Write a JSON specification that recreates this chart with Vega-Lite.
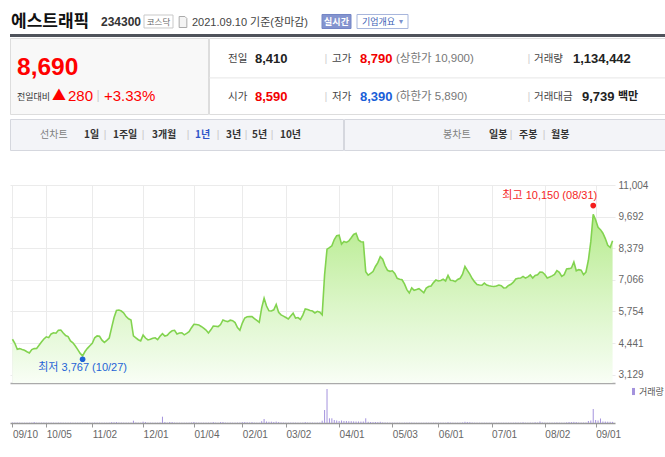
{
"$schema": "https://vega.github.io/schema/vega-lite/v6.json",
"usermeta": {"embedOptions": {"actions": false}},
"padding": {"left": 9, "top": 0, "right": 0, "bottom": 0},
"autosize": {"type": "pad"},
"background": "white",
"config": {"view": {"stroke": null}, "font": "Noto Sans CJK KR"},
"datasets": {
"quote": [{"name": "에스트래픽", "code": "234300", "market": "코스닥", "asof": "2021.09.10 기준(장마감)", "live": "실시간", "about": "기업개요", "price": 8690, "changeLabel": "전일대비", "arrow": "▲", "change": 280, "rate": "+3.33%"}],
"grid": [
{"item": "전일", "val": 8410, "col": "base", "row": "top", "dir": "flat"},
{"item": "시가", "val": 8590, "col": "base", "row": "bottom", "dir": "up"},
{"item": "고가", "val": 8790, "col": "hilo", "row": "top", "dir": "up", "limit": "(상한가 10,900)"},
{"item": "저가", "val": 8390, "col": "hilo", "row": "bottom", "dir": "down", "limit": "(하한가 5,890)"},
{"item": "거래량", "val": 1134442, "col": "trade", "row": "top", "dir": "flat"},
{"item": "거래대금", "val": 9739, "col": "trade", "row": "bottom", "dir": "flat", "unit": "백만"}
],
"tabs": [{"tab": "선차트"}, {"tab": "1일"}, {"tab": "1주일"}, {"tab": "3개월"}, {"tab": "1년"}, {"tab": "3년"}, {"tab": "5년"}, {"tab": "10년"}, {"tab": "봉차트"}, {"tab": "일봉"}, {"tab": "주봉"}, {"tab": "월봉"}],
"sep": [{"s": "|"}],
"extremes": [
{"d": "2021-08-31", "p": 10150, "kind": "최고", "label": "최고 10,150 (08/31)"},
{"d": "2020-10-27", "p": 3767, "kind": "최저", "label": "최저 3,767 (10/27)"}
],
"price": [
{"d":"2020-09-10","p":4600,"v":450000},{"d":"2020-09-11","p":4430,"v":380000},{"d":"2020-09-14","p":4180,"v":420000},{"d":"2020-09-15","p":4210,"v":300000},{"d":"2020-09-16","p":4170,"v":250000},{"d":"2020-09-17","p":4140,"v":260000},{"d":"2020-09-18","p":4080,"v":280000},{"d":"2020-09-21","p":4030,"v":300000},{"d":"2020-09-22","p":4170,"v":350000},{"d":"2020-09-23","p":4210,"v":900000},
{"d":"2020-09-24","p":4220,"v":300000},{"d":"2020-09-25","p":4350,"v":320000},{"d":"2020-09-28","p":4480,"v":340000},{"d":"2020-09-29","p":4610,"v":380000},{"d":"2020-10-05","p":4700,"v":360000},{"d":"2020-10-06","p":4665,"v":280000},{"d":"2020-10-07","p":4820,"v":330000},{"d":"2020-10-08","p":4870,"v":300000},{"d":"2020-10-12","p":4850,"v":260000},{"d":"2020-10-13","p":4970,"v":350000},
{"d":"2020-10-14","p":4980,"v":300000},{"d":"2020-10-15","p":4860,"v":260000},{"d":"2020-10-16","p":4750,"v":250000},{"d":"2020-10-19","p":4710,"v":240000},{"d":"2020-10-20","p":4530,"v":300000},{"d":"2020-10-21","p":4450,"v":260000},{"d":"2020-10-22","p":4320,"v":280000},{"d":"2020-10-23","p":4170,"v":300000},{"d":"2020-10-26","p":4010,"v":330000},{"d":"2020-10-27","p":3910,"v":380000},
{"d":"2020-10-28","p":4090,"v":350000},{"d":"2020-10-29","p":4220,"v":320000},{"d":"2020-10-30","p":4330,"v":300000},{"d":"2020-11-02","p":4430,"v":280000},{"d":"2020-11-03","p":4660,"v":400000},{"d":"2020-11-04","p":4740,"v":350000},{"d":"2020-11-05","p":4720,"v":300000},{"d":"2020-11-06","p":4560,"v":280000},{"d":"2020-11-09","p":4470,"v":260000},{"d":"2020-11-10","p":4550,"v":280000},
{"d":"2020-11-11","p":4650,"v":320000},{"d":"2020-11-12","p":5080,"v":800000},{"d":"2020-11-13","p":5500,"v":700000},{"d":"2020-11-16","p":5790,"v":900000},{"d":"2020-11-17","p":5810,"v":500000},{"d":"2020-11-18","p":5770,"v":400000},{"d":"2020-11-19","p":5690,"v":350000},{"d":"2020-11-20","p":5540,"v":330000},{"d":"2020-11-23","p":5450,"v":300000},{"d":"2020-11-24","p":5400,"v":320000},
{"d":"2020-11-25","p":4740,"v":2300000},{"d":"2020-11-26","p":4660,"v":500000},{"d":"2020-11-27","p":4580,"v":350000},{"d":"2020-11-30","p":4530,"v":300000},{"d":"2020-12-01","p":4770,"v":1300000},{"d":"2020-12-02","p":4650,"v":900000},{"d":"2020-12-03","p":4570,"v":350000},{"d":"2020-12-04","p":4600,"v":300000},{"d":"2020-12-07","p":4640,"v":280000},{"d":"2020-12-08","p":4660,"v":300000},
{"d":"2020-12-09","p":4580,"v":280000},{"d":"2020-12-10","p":4720,"v":500000},{"d":"2020-12-11","p":4830,"v":6300000},{"d":"2020-12-14","p":4730,"v":1000000},{"d":"2020-12-15","p":4760,"v":400000},{"d":"2020-12-16","p":4880,"v":1000000},{"d":"2020-12-17","p":4950,"v":900000},{"d":"2020-12-18","p":4970,"v":400000},{"d":"2020-12-21","p":4820,"v":350000},{"d":"2020-12-22","p":4860,"v":300000},
{"d":"2020-12-23","p":4870,"v":280000},{"d":"2020-12-24","p":4780,"v":260000},{"d":"2020-12-28","p":4840,"v":280000},{"d":"2020-12-29","p":4910,"v":300000},{"d":"2020-12-30","p":5080,"v":500000},{"d":"2021-01-04","p":5220,"v":1000000},{"d":"2021-01-05","p":5210,"v":400000},{"d":"2021-01-06","p":5195,"v":350000},{"d":"2021-01-07","p":5130,"v":300000},{"d":"2021-01-08","p":5060,"v":300000},
{"d":"2021-01-11","p":4980,"v":320000},{"d":"2021-01-12","p":4860,"v":300000},{"d":"2021-01-13","p":4990,"v":350000},{"d":"2021-01-14","p":5150,"v":900000},{"d":"2021-01-15","p":5140,"v":400000},{"d":"2021-01-18","p":5125,"v":300000},{"d":"2021-01-19","p":5210,"v":900000},{"d":"2021-01-20","p":5400,"v":1000000},{"d":"2021-01-21","p":5360,"v":400000},{"d":"2021-01-22","p":5330,"v":320000},
{"d":"2021-01-25","p":5390,"v":350000},{"d":"2021-01-26","p":5370,"v":300000},{"d":"2021-01-27","p":5290,"v":300000},{"d":"2021-01-28","p":5080,"v":350000},{"d":"2021-01-29","p":4970,"v":400000},{"d":"2021-02-01","p":5270,"v":800000},{"d":"2021-02-02","p":5480,"v":900000},{"d":"2021-02-03","p":5530,"v":700000},{"d":"2021-02-04","p":5540,"v":500000},{"d":"2021-02-05","p":5540,"v":800000},
{"d":"2021-02-08","p":5460,"v":350000},{"d":"2021-02-09","p":5380,"v":300000},{"d":"2021-02-10","p":5300,"v":300000},{"d":"2021-02-15","p":5900,"v":1800000},{"d":"2021-02-16","p":6300,"v":4000000},{"d":"2021-02-17","p":5980,"v":1500000},{"d":"2021-02-18","p":5780,"v":1200000},{"d":"2021-02-19","p":5770,"v":1300000},{"d":"2021-02-22","p":5820,"v":1000000},{"d":"2021-02-23","p":6040,"v":1400000},
{"d":"2021-02-24","p":5720,"v":900000},{"d":"2021-02-25","p":5610,"v":500000},{"d":"2021-02-26","p":5560,"v":400000},{"d":"2021-03-02","p":5500,"v":350000},{"d":"2021-03-03","p":5440,"v":300000},{"d":"2021-03-04","p":5560,"v":350000},{"d":"2021-03-05","p":5680,"v":400000},{"d":"2021-03-08","p":5480,"v":350000},{"d":"2021-03-09","p":5500,"v":300000},{"d":"2021-03-10","p":5420,"v":280000},
{"d":"2021-03-11","p":5600,"v":400000},{"d":"2021-03-12","p":5860,"v":900000},{"d":"2021-03-15","p":5830,"v":500000},{"d":"2021-03-16","p":5790,"v":400000},{"d":"2021-03-17","p":5770,"v":350000},{"d":"2021-03-18","p":5690,"v":320000},{"d":"2021-03-19","p":5760,"v":350000},{"d":"2021-03-22","p":5720,"v":400000},{"d":"2021-03-23","p":5610,"v":2300000},{"d":"2021-03-24","p":7280,"v":13000000},
{"d":"2021-03-25","p":8340,"v":34000000},{"d":"2021-03-26","p":8400,"v":4700000},{"d":"2021-03-29","p":8480,"v":4700000},{"d":"2021-03-30","p":8740,"v":3000000},{"d":"2021-03-31","p":8900,"v":2500000},{"d":"2021-04-01","p":8920,"v":2000000},{"d":"2021-04-02","p":8550,"v":2500000},{"d":"2021-04-05","p":8660,"v":2000000},{"d":"2021-04-06","p":8620,"v":2000000},{"d":"2021-04-07","p":8680,"v":1800000},
{"d":"2021-04-08","p":8810,"v":1800000},{"d":"2021-04-09","p":8950,"v":1600000},{"d":"2021-04-12","p":9000,"v":1500000},{"d":"2021-04-13","p":8720,"v":1500000},{"d":"2021-04-14","p":8650,"v":1400000},{"d":"2021-04-15","p":8640,"v":1500000},{"d":"2021-04-16","p":7400,"v":4700000},{"d":"2021-04-19","p":7260,"v":1200000},{"d":"2021-04-20","p":7330,"v":1000000},{"d":"2021-04-21","p":7410,"v":900000},
{"d":"2021-04-22","p":7620,"v":1000000},{"d":"2021-04-23","p":7780,"v":900000},{"d":"2021-04-26","p":8030,"v":1200000},{"d":"2021-04-27","p":7920,"v":600000},{"d":"2021-04-28","p":7650,"v":500000},{"d":"2021-04-29","p":7460,"v":400000},{"d":"2021-04-30","p":7420,"v":350000},{"d":"2021-05-03","p":7440,"v":300000},{"d":"2021-05-04","p":7330,"v":280000},{"d":"2021-05-06","p":7130,"v":300000},
{"d":"2021-05-07","p":7090,"v":260000},{"d":"2021-05-10","p":7070,"v":250000},{"d":"2021-05-11","p":6900,"v":300000},{"d":"2021-05-12","p":6660,"v":350000},{"d":"2021-05-13","p":6520,"v":400000},{"d":"2021-05-14","p":6730,"v":350000},{"d":"2021-05-17","p":6630,"v":280000},{"d":"2021-05-18","p":6660,"v":250000},{"d":"2021-05-20","p":6700,"v":240000},{"d":"2021-05-21","p":6620,"v":230000},
{"d":"2021-05-24","p":6530,"v":260000},{"d":"2021-05-25","p":6720,"v":300000},{"d":"2021-05-26","p":6790,"v":280000},{"d":"2021-05-27","p":6810,"v":260000},{"d":"2021-05-28","p":6950,"v":300000},{"d":"2021-05-31","p":7060,"v":350000},{"d":"2021-06-01","p":7020,"v":300000},{"d":"2021-06-02","p":7040,"v":280000},{"d":"2021-06-03","p":7090,"v":300000},{"d":"2021-06-04","p":7020,"v":260000},
{"d":"2021-06-07","p":7250,"v":700000},{"d":"2021-06-08","p":7050,"v":350000},{"d":"2021-06-09","p":7040,"v":280000},{"d":"2021-06-10","p":6990,"v":260000},{"d":"2021-06-11","p":7080,"v":280000},{"d":"2021-06-14","p":7130,"v":300000},{"d":"2021-06-15","p":7300,"v":500000},{"d":"2021-06-16","p":7620,"v":1200000},{"d":"2021-06-17","p":7460,"v":900000},{"d":"2021-06-18","p":7300,"v":800000},
{"d":"2021-06-21","p":7120,"v":400000},{"d":"2021-06-22","p":6980,"v":300000},{"d":"2021-06-23","p":6870,"v":280000},{"d":"2021-06-24","p":6850,"v":250000},{"d":"2021-06-25","p":6840,"v":240000},{"d":"2021-06-28","p":6930,"v":260000},{"d":"2021-06-29","p":6850,"v":240000},{"d":"2021-06-30","p":6820,"v":230000},{"d":"2021-07-01","p":6800,"v":220000},{"d":"2021-07-02","p":6790,"v":230000},
{"d":"2021-07-05","p":6810,"v":220000},{"d":"2021-07-06","p":6850,"v":240000},{"d":"2021-07-07","p":6820,"v":230000},{"d":"2021-07-08","p":6730,"v":260000},{"d":"2021-07-09","p":6740,"v":240000},{"d":"2021-07-12","p":6830,"v":250000},{"d":"2021-07-13","p":6880,"v":260000},{"d":"2021-07-14","p":6970,"v":300000},{"d":"2021-07-15","p":7100,"v":400000},{"d":"2021-07-16","p":7130,"v":350000},
{"d":"2021-07-19","p":7140,"v":300000},{"d":"2021-07-20","p":7210,"v":700000},{"d":"2021-07-21","p":7140,"v":300000},{"d":"2021-07-22","p":7190,"v":280000},{"d":"2021-07-23","p":7270,"v":350000},{"d":"2021-07-26","p":7140,"v":300000},{"d":"2021-07-27","p":7250,"v":700000},{"d":"2021-07-28","p":7280,"v":400000},{"d":"2021-07-29","p":7390,"v":1500000},{"d":"2021-07-30","p":7380,"v":500000},
{"d":"2021-08-02","p":7290,"v":350000},{"d":"2021-08-03","p":7140,"v":300000},{"d":"2021-08-04","p":7180,"v":280000},{"d":"2021-08-05","p":7230,"v":300000},{"d":"2021-08-06","p":7290,"v":320000},{"d":"2021-08-09","p":7450,"v":500000},{"d":"2021-08-10","p":7380,"v":350000},{"d":"2021-08-11","p":7210,"v":300000},{"d":"2021-08-12","p":7280,"v":300000},{"d":"2021-08-13","p":7520,"v":600000},
{"d":"2021-08-17","p":7530,"v":1000000},{"d":"2021-08-18","p":7560,"v":900000},{"d":"2021-08-19","p":7810,"v":1100000},{"d":"2021-08-20","p":7440,"v":900000},{"d":"2021-08-23","p":7490,"v":500000},{"d":"2021-08-24","p":7470,"v":400000},{"d":"2021-08-25","p":7280,"v":400000},{"d":"2021-08-26","p":7390,"v":450000},{"d":"2021-08-27","p":7880,"v":2000000},{"d":"2021-08-30","p":8650,"v":2500000},
{"d":"2021-08-31","p":9790,"v":14000000},{"d":"2021-09-01","p":9550,"v":3000000},{"d":"2021-09-02","p":9250,"v":2500000},{"d":"2021-09-03","p":9150,"v":4500000},{"d":"2021-09-06","p":9000,"v":1500000},{"d":"2021-09-07","p":8780,"v":1400000},{"d":"2021-09-08","p":8500,"v":1300000},{"d":"2021-09-09","p":8410,"v":1200000},{"d":"2021-09-10","p":8690,"v":1134442}
]
},
"spacing": 0,
"bounds": "full",
"resolve": {"scale": {"x": "independent", "y": "independent", "color": "independent"}},
"vconcat": [
{
"width": 656, "height": 34,
"data": {"name": "quote"},
"layer": [
{"mark": {"type": "text", "align": "left", "baseline": "alphabetic", "dx": -327, "dy": 10, "fontSize": 17, "fontWeight": "bold", "color": "#111111", "font": "Noto Sans CJK KR"}, "encoding": {"text": {"field": "name"}}},
{"mark": {"type": "text", "align": "left", "baseline": "alphabetic", "dx": -237, "dy": 9, "fontSize": 12, "fontWeight": "bold", "color": "#333333", "font": "Liberation Sans"}, "encoding": {"text": {"field": "code"}}},
{"mark": {"type": "point", "shape": "M-1,-0.448H1V0.448H-1Z", "size": 841, "filled": true, "fill": "#ffffff", "stroke": "#c9c9c9", "strokeWidth": 1, "opacity": 1, "xOffset": -179.5, "yOffset": 4.5}, "encoding": {}},
{"mark": {"type": "text", "align": "center", "baseline": "middle", "dx": -179.5, "dy": 5, "fontSize": 8.5, "color": "#666666"}, "encoding": {"text": {"field": "market"}}},
{"mark": {"type": "point", "shape": "M-0.7,-1H0.35L0.7,-0.65V1H-0.7Z", "size": 121, "filled": true, "fill": "#f4f4f4", "stroke": "#aaaaaa", "strokeWidth": 1, "opacity": 1, "xOffset": -155, "yOffset": 5}, "encoding": {}},
{"mark": {"type": "text", "align": "left", "baseline": "alphabetic", "dx": -146, "dy": 9, "fontSize": 11, "color": "#444444", "font": "Liberation Sans, Noto Sans CJK KR"}, "encoding": {"text": {"field": "asof"}}},
{"mark": {"type": "point", "shape": "M-1,-0.483H1V0.483H-1Z", "size": 841, "filled": true, "fill": "#8494cf", "stroke": "#7385c6", "strokeWidth": 1, "opacity": 1, "xOffset": -1.5, "yOffset": 4.5}, "encoding": {}},
{"mark": {"type": "text", "align": "center", "baseline": "middle", "dx": -1.5, "dy": 5, "fontSize": 9, "fontWeight": "bold", "color": "#ffffff"}, "encoding": {"text": {"field": "live"}}},
{"mark": {"type": "point", "shape": "M-1,-0.275H1V0.275H-1Z", "size": 2601, "filled": true, "fill": "#ffffff", "stroke": "#a7b6dc", "strokeWidth": 1, "opacity": 1, "xOffset": 44.5, "yOffset": 4.5}, "encoding": {}},
{"mark": {"type": "text", "align": "left", "baseline": "middle", "dx": 24, "dy": 5, "fontSize": 9, "color": "#3d5fb5"}, "encoding": {"text": {"field": "about"}}},
{"data": {"values": [{"s": "▾"}]}, "mark": {"type": "text", "align": "center", "baseline": "middle", "dx": 63, "dy": 5, "fontSize": 8, "color": "#7d92cc", "font": "DejaVu Sans"}, "encoding": {"text": {"field": "s"}}}
]
},
{
"width": 656, "height": 3,
"data": {"name": "quote"},
"view": {"fill": "#4f535b", "stroke": null},
"mark": {"type": "bar", "color": "#4f535b"},
"encoding": {"x": {"datum": 1, "type": "quantitative", "scale": {"domain": [0, 1], "nice": false}, "axis": null}}
},
{
"spacing": 3,
"bounds": "full",
"resolve": {"scale": {"x": "independent", "y": "independent", "color": "independent"}},
"vconcat": [
{
"spacing": -1,
"bounds": "full",
"resolve": {"scale": {"x": "independent", "y": "independent", "color": "independent"}},
"hconcat": [
{
"width": 198, "height": 76,
"data": {"name": "quote"},
"view": {"fill": "#f8f8f8", "stroke": "#dddddd"},
"layer": [
{"mark": {"type": "text", "align": "left", "baseline": "alphabetic", "dx": -92, "dy": -1, "fontSize": 24.5, "fontWeight": "bold", "color": "#ff0000", "font": "Liberation Sans"}, "encoding": {"text": {"field": "price", "format": ","}}},
{"mark": {"type": "text", "align": "left", "baseline": "alphabetic", "dx": -92, "dy": 24, "fontSize": 9, "color": "#333333"}, "encoding": {"text": {"field": "changeLabel"}}},
{"mark": {"type": "text", "align": "left", "baseline": "alphabetic", "dx": -57, "dy": 24, "fontSize": 14, "color": "#ff0000"}, "encoding": {"text": {"field": "arrow"}}},
{"mark": {"type": "text", "align": "left", "baseline": "alphabetic", "dx": -41, "dy": 25, "fontSize": 15, "color": "#ff0000", "font": "Liberation Sans"}, "encoding": {"text": {"field": "change"}}},
{"data": {"name": "sep"}, "mark": {"type": "text", "align": "center", "baseline": "alphabetic", "dx": -11, "dy": 23, "fontSize": 12, "color": "#cccccc", "font": "Liberation Sans"}, "encoding": {"text": {"field": "s"}}},
{"mark": {"type": "text", "align": "left", "baseline": "alphabetic", "dx": -5, "dy": 25, "fontSize": 15, "color": "#ff0000", "font": "Liberation Sans"}, "encoding": {"text": {"field": "rate"}}}
]
},
{
"width": 458, "height": 76,
"data": {"name": "grid"},
"view": {"fill": "#ffffff", "stroke": "#dddddd"},
"encoding": {"y": {"field": "row", "type": "nominal", "scale": {"type": "band", "domain": ["top", "bottom"], "paddingInner": 0, "paddingOuter": 0}, "axis": null}},
"layer": [
{"transform": [{"filter": {"field": "item", "equal": "시가"}}], "mark": {"type": "rule", "color": "#e6e6e6", "strokeWidth": 1}, "encoding": {"y": {"field": "row", "type": "nominal", "bandPosition": 0.05}}},
{"transform": [{"filter": {"field": "col", "equal": "base"}}], "mark": {"type": "text", "align": "left", "baseline": "middle", "dx": -210, "dy": 2, "fontSize": 10.5, "color": "#444444"}, "encoding": {"text": {"field": "item"}}},
{"transform": [{"filter": {"field": "col", "equal": "hilo"}}], "mark": {"type": "text", "align": "left", "baseline": "middle", "dx": -106, "dy": 2, "fontSize": 10.5, "color": "#444444"}, "encoding": {"text": {"field": "item"}}},
{"transform": [{"filter": {"field": "col", "equal": "trade"}}], "mark": {"type": "text", "align": "left", "baseline": "middle", "dx": 96, "dy": 2, "fontSize": 10.5, "color": "#444444"}, "encoding": {"text": {"field": "item"}}},
{"transform": [{"filter": {"field": "col", "equal": "base"}}], "mark": {"type": "text", "align": "left", "baseline": "middle", "dx": -183, "dy": 2, "fontSize": 13, "fontWeight": "bold", "font": "Liberation Sans"}, "encoding": {"text": {"field": "val", "format": ","}, "color": {"field": "dir", "type": "nominal", "scale": {"domain": ["up", "down", "flat"], "range": ["#f20000", "#1a5ed8", "#222222"]}, "legend": null}}},
{"transform": [{"filter": {"field": "col", "equal": "hilo"}}], "mark": {"type": "text", "align": "left", "baseline": "middle", "dx": -78, "dy": 2, "fontSize": 13, "fontWeight": "bold", "font": "Liberation Sans"}, "encoding": {"text": {"field": "val", "format": ","}, "color": {"field": "dir", "type": "nominal", "legend": null}}},
{"transform": [{"filter": {"field": "item", "equal": "거래량"}}], "mark": {"type": "text", "align": "left", "baseline": "middle", "dx": 135, "dy": 2, "fontSize": 13, "fontWeight": "bold", "font": "Liberation Sans"}, "encoding": {"text": {"field": "val", "format": ","}, "color": {"field": "dir", "type": "nominal", "legend": null}}},
{"transform": [{"filter": {"field": "item", "equal": "거래대금"}}], "mark": {"type": "text", "align": "left", "baseline": "middle", "dx": 144, "dy": 2, "fontSize": 13, "fontWeight": "bold", "font": "Liberation Sans"}, "encoding": {"text": {"field": "val", "format": ","}, "color": {"field": "dir", "type": "nominal", "legend": null}}},
{"transform": [{"filter": {"field": "item", "equal": "거래대금"}}], "mark": {"type": "text", "align": "left", "baseline": "middle", "dx": 180, "dy": 2, "fontSize": 11, "fontWeight": "bold", "color": "#222222"}, "encoding": {"text": {"field": "unit"}}},
{"transform": [{"filter": {"field": "col", "equal": "hilo"}}], "mark": {"type": "text", "align": "left", "baseline": "middle", "dx": -42, "dy": 2, "fontSize": 11.5, "color": "#777777", "font": "Liberation Sans, Noto Sans CJK KR"}, "encoding": {"text": {"field": "limit"}}},
{"transform": [{"filter": {"field": "col", "equal": "base"}}], "mark": {"type": "text", "align": "center", "baseline": "middle", "dx": -112, "dy": 2, "fontSize": 11, "color": "#d0d0d0", "font": "Liberation Sans", "text": "|"}, "encoding": {}},
{"transform": [{"filter": {"field": "col", "equal": "base"}}], "mark": {"type": "text", "align": "center", "baseline": "middle", "dx": 91, "dy": 2, "fontSize": 11, "color": "#d0d0d0", "font": "Liberation Sans", "text": "|"}, "encoding": {}}
]
}
]
},
{
"spacing": 29,
"bounds": "full",
"resolve": {"scale": {"x": "independent", "y": "independent", "color": "independent"}},
"vconcat": [
{
"spacing": -1,
"bounds": "full",
"hconcat": [
{
"width": 333, "height": 31,
"data": {"name": "tabs"},
"view": {"fill": "#f3f4f8", "stroke": "#d5d7de"},
"layer": [
{"transform": [{"filter": {"field": "tab", "equal": "선차트"}}], "mark": {"type": "text", "align": "left", "baseline": "middle", "dx": -136.5, "fontSize": 10, "color": "#808080"}, "encoding": {"text": {"field": "tab"}}},
{"transform": [{"filter": {"field": "tab", "equal": "1일"}}], "mark": {"type": "text", "align": "left", "baseline": "middle", "dx": -92.5, "fontSize": 10, "fontWeight": "bold", "color": "#333333"}, "encoding": {"text": {"field": "tab"}}},
{"transform": [{"filter": {"field": "tab", "equal": "1주일"}}], "mark": {"type": "text", "align": "left", "baseline": "middle", "dx": -63.5, "fontSize": 10, "fontWeight": "bold", "color": "#333333"}, "encoding": {"text": {"field": "tab"}}},
{"transform": [{"filter": {"field": "tab", "equal": "3개월"}}], "mark": {"type": "text", "align": "left", "baseline": "middle", "dx": -24.5, "fontSize": 10, "fontWeight": "bold", "color": "#333333"}, "encoding": {"text": {"field": "tab"}}},
{"transform": [{"filter": {"field": "tab", "equal": "1년"}}], "mark": {"type": "text", "align": "left", "baseline": "middle", "dx": 18.5, "fontSize": 10, "fontWeight": "bold", "color": "#2f56c8"}, "encoding": {"text": {"field": "tab"}}},
{"transform": [{"filter": {"field": "tab", "equal": "3년"}}], "mark": {"type": "text", "align": "left", "baseline": "middle", "dx": 49.5, "fontSize": 10, "fontWeight": "bold", "color": "#333333"}, "encoding": {"text": {"field": "tab"}}},
{"transform": [{"filter": {"field": "tab", "equal": "5년"}}], "mark": {"type": "text", "align": "left", "baseline": "middle", "dx": 75.5, "fontSize": 10, "fontWeight": "bold", "color": "#333333"}, "encoding": {"text": {"field": "tab"}}},
{"transform": [{"filter": {"field": "tab", "equal": "10년"}}], "mark": {"type": "text", "align": "left", "baseline": "middle", "dx": 103.5, "fontSize": 10, "fontWeight": "bold", "color": "#333333"}, "encoding": {"text": {"field": "tab"}}},
{"data": {"name": "sep"}, "mark": {"type": "text", "align": "center", "baseline": "middle", "dx": -71.5, "fontSize": 10, "color": "#c8c8c8", "font": "Liberation Sans"}, "encoding": {"text": {"field": "s"}}},
{"data": {"name": "sep"}, "mark": {"type": "text", "align": "center", "baseline": "middle", "dx": -33.5, "fontSize": 10, "color": "#c8c8c8", "font": "Liberation Sans"}, "encoding": {"text": {"field": "s"}}},
{"data": {"name": "sep"}, "mark": {"type": "text", "align": "center", "baseline": "middle", "dx": 11.5, "fontSize": 10, "color": "#c8c8c8", "font": "Liberation Sans"}, "encoding": {"text": {"field": "s"}}},
{"data": {"name": "sep"}, "mark": {"type": "text", "align": "center", "baseline": "middle", "dx": 41.5, "fontSize": 10, "color": "#c8c8c8", "font": "Liberation Sans"}, "encoding": {"text": {"field": "s"}}},
{"data": {"name": "sep"}, "mark": {"type": "text", "align": "center", "baseline": "middle", "dx": 69.5, "fontSize": 10, "color": "#c8c8c8", "font": "Liberation Sans"}, "encoding": {"text": {"field": "s"}}},
{"data": {"name": "sep"}, "mark": {"type": "text", "align": "center", "baseline": "middle", "dx": 95.5, "fontSize": 10, "color": "#c8c8c8", "font": "Liberation Sans"}, "encoding": {"text": {"field": "s"}}}
]
},
{
"width": 323, "height": 31,
"data": {"name": "tabs"},
"view": {"fill": "#f3f4f8", "stroke": "#d5d7de"},
"layer": [
{"transform": [{"filter": {"field": "tab", "equal": "봉차트"}}], "mark": {"type": "text", "align": "left", "baseline": "middle", "dx": -62.5, "fontSize": 10, "color": "#808080"}, "encoding": {"text": {"field": "tab"}}},
{"transform": [{"filter": {"field": "tab", "equal": "일봉"}}], "mark": {"type": "text", "align": "left", "baseline": "middle", "dx": -16.5, "fontSize": 10, "fontWeight": "bold", "color": "#333333"}, "encoding": {"text": {"field": "tab"}}},
{"transform": [{"filter": {"field": "tab", "equal": "주봉"}}], "mark": {"type": "text", "align": "left", "baseline": "middle", "dx": 13.5, "fontSize": 10, "fontWeight": "bold", "color": "#333333"}, "encoding": {"text": {"field": "tab"}}},
{"transform": [{"filter": {"field": "tab", "equal": "월봉"}}], "mark": {"type": "text", "align": "left", "baseline": "middle", "dx": 45.5, "fontSize": 10, "fontWeight": "bold", "color": "#333333"}, "encoding": {"text": {"field": "tab"}}},
{"data": {"name": "sep"}, "mark": {"type": "text", "align": "center", "baseline": "middle", "dx": 5.5, "fontSize": 10, "color": "#c8c8c8", "font": "Liberation Sans"}, "encoding": {"text": {"field": "s"}}},
{"data": {"name": "sep"}, "mark": {"type": "text", "align": "center", "baseline": "middle", "dx": 38.5, "fontSize": 10, "color": "#c8c8c8", "font": "Liberation Sans"}, "encoding": {"text": {"field": "s"}}}
]
}
]
},
{
"spacing": 1,
"bounds": "full",
"resolve": {"scale": {"y": "independent", "color": "independent"}},
"vconcat": [
{
"width": 605, "height": 198,
"layer": [
{
"data": {"name": "price"},
"mark": {"type": "area", "line": false, "color": {"gradient": "linear", "x1": 0, "y1": 0, "x2": 0, "y2": 1, "stops": [{"offset": 0, "color": "#b5ea8a"}, {"offset": 0.2, "color": "#c4efa3"}, {"offset": 0.55, "color": "#dcf6c9"}, {"offset": 0.85, "color": "#eefbe6"}, {"offset": 1, "color": "#f9fef6"}]}},
"encoding": {
"x": {"field": "d", "type": "ordinal", "scale": {"type": "point", "padding": 1.24}, "axis": {"values": ["2020-09-10","2020-10-05","2020-11-02","2020-12-01","2021-01-04","2021-02-01","2021-03-02","2021-04-01","2021-05-03","2021-06-01","2021-07-01","2021-08-02","2021-09-01"], "labels": false, "ticks": false, "grid": true, "gridColor": "#ebebeb", "domainColor": "#aaaaaa", "domainWidth": 1.5, "title": null}},
"y": {"field": "p", "type": "quantitative", "scale": {"domain": [2782, 11004], "nice": false, "zero": false}, "axis": {"orient": "right", "values": [3129, 4441, 5754, 7066, 8379, 9692, 11004], "tickCount": 20, "labelExpr": "format(datum.value, ',')", "labelOverlap": false, "grid": true, "gridColor": "#ebebeb", "domain": false, "ticks": false, "labelPadding": 3, "labelFont": "Liberation Sans", "labelFontSize": 10, "labelColor": "#666666", "title": null}},
"y2": {"datum": 2782}
}
},
{
"data": {"name": "price"},
"mark": {"type": "line", "color": "#82d34f", "strokeWidth": 1.6},
"encoding": {"x": {"field": "d", "type": "ordinal"}, "y": {"field": "p", "type": "quantitative"}}
},
{
"data": {"name": "extremes"},
"mark": {"type": "point", "filled": true, "size": 32, "opacity": 1},
"encoding": {"x": {"field": "d", "type": "ordinal"}, "y": {"field": "p", "type": "quantitative"}, "color": {"field": "kind", "type": "nominal", "scale": {"domain": ["최고", "최저"], "range": ["#f41e1e", "#1f63d6"]}, "legend": null}}
},
{
"data": {"name": "extremes"},
"transform": [{"filter": {"field": "kind", "equal": "최고"}}],
"mark": {"type": "text", "align": "right", "baseline": "middle", "dx": 4, "dy": -10, "fontSize": 11, "font": "Liberation Sans, Noto Sans CJK KR"},
"encoding": {"x": {"field": "d", "type": "ordinal"}, "y": {"field": "p", "type": "quantitative"}, "text": {"field": "label"}, "color": {"field": "kind", "type": "nominal", "legend": null}}
},
{
"data": {"name": "extremes"},
"transform": [{"filter": {"field": "kind", "equal": "최저"}}],
"mark": {"type": "text", "align": "center", "baseline": "middle", "dy": 9, "fontSize": 11, "font": "Liberation Sans, Noto Sans CJK KR"},
"encoding": {"x": {"field": "d", "type": "ordinal"}, "y": {"field": "p", "type": "quantitative"}, "text": {"field": "label"}, "color": {"field": "kind", "type": "nominal", "legend": null}}
}
]
},
{
"width": 605, "height": 39,
"data": {"name": "price"},
"mark": {"type": "rule", "strokeWidth": 1},
"encoding": {
"x": {"field": "d", "type": "ordinal", "scale": {"type": "point", "padding": 1.24}, "axis": {"values": ["2020-09-10","2020-10-05","2020-11-02","2020-12-01","2021-01-04","2021-02-01","2021-03-02","2021-04-01","2021-05-03","2021-06-01","2021-07-01","2021-08-02","2021-09-01"], "labelExpr": "substring(datum.value, 5, 7) + '/' + substring(datum.value, 8, 10)", "labelAlign": "left", "labelBaseline": "top", "labelPadding": 2, "labelFont": "Liberation Sans", "labelFontSize": 10, "labelColor": "#666666", "labelAngle": 0, "labelOverlap": false, "ticks": true, "tickSize": 4, "tickColor": "#999999", "domainColor": "#999999", "domainWidth": 1.5, "grid": false, "title": null}},
"y": {"field": "v", "type": "quantitative", "scale": {"domain": [0, 39000000], "nice": false}, "axis": null},
"y2": {"datum": 0},
"color": {"datum": "거래량", "type": "nominal", "scale": {"range": ["#a493dd"]}, "legend": {"orient": "right", "title": null, "offset": 11, "padding": 2, "symbolType": "M0,-1V1", "symbolStrokeWidth": 3, "symbolSize": 50, "labelFont": "Noto Sans CJK KR", "labelFontSize": 9, "labelColor": "#555555", "labelOffset": 0}}
}
}
]
}
]
}
]
}
]
}
